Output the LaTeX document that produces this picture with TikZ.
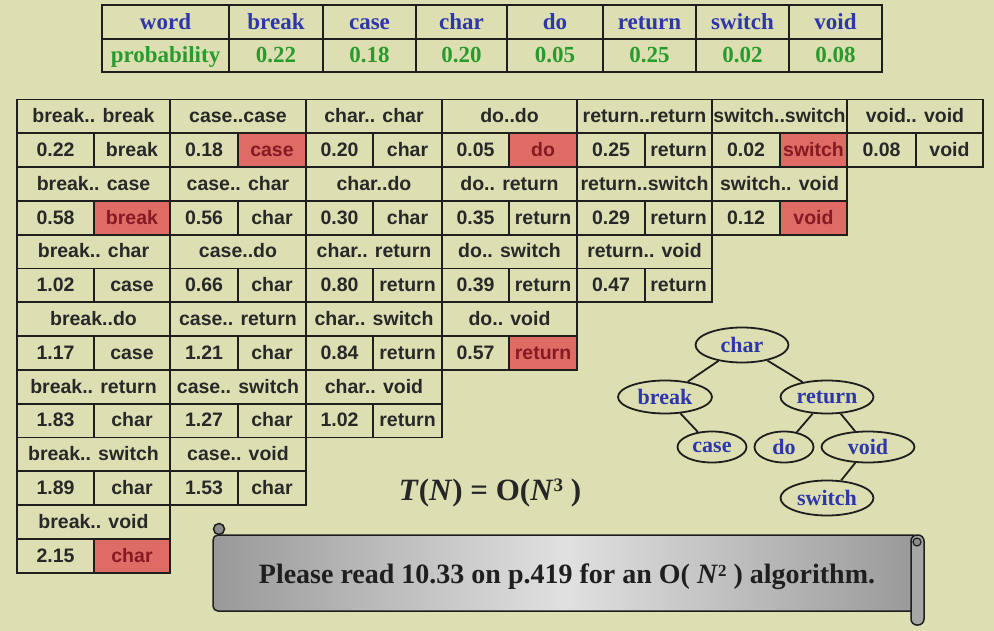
\documentclass[tikz,border=0pt]{standalone}
\usepackage{fontspec}
\setmainfont{Liberation Serif}
\setsansfont{Liberation Sans}
\usetikzlibrary{shapes.geometric}
\definecolor{bgc}{RGB}{221,223,178}
\definecolor{redc}{RGB}{222,108,100}
\definecolor{redtext}{RGB}{135,25,35}
\definecolor{bluec}{RGB}{45,55,170}
\definecolor{greenc}{RGB}{40,155,45}
\definecolor{gridtext}{RGB}{40,40,40}
\definecolor{linec}{RGB}{30,30,30}
\newcommand\boxcell[7]{%
  \pgfmathsetmacro\bcw{#4-#3}\pgfmathsetmacro\bch{#6-#5}%
  \pgfmathsetmacro\bcx{(#3+#4)/2}\pgfmathsetmacro\bcy{(#5+#6)/2}%
  \node[#2, minimum width=\bcw pt, minimum height=\bch pt] (#1) at (\bcx,\bcy) {#7};}
\newcommand\gcell[6]{%
  \pgfmathsetmacro\gya{99.5+33.8*#5}\pgfmathsetmacro\gyb{\gya+33.8}%
  \boxcell{#1}{#2}{#3}{#4}{\gya}{\gyb}{#6}}
\begin{document}
\begin{tikzpicture}[x=1pt,y=-1pt,
  cellbase/.style={draw=linec, line width=1.8pt, inner sep=0pt, anchor=center},
  gc/.style={cellbase, fill=bgc, text=gridtext, text height=13.5pt, text depth=1pt, font=\sffamily\bfseries\fontsize{19.5}{20}\selectfont},
  rc/.style={gc, fill=redc, text=redtext},
  tw/.style={cellbase, fill=bgc, text=bluec, text height=15.5pt, text depth=0.5pt, font=\bfseries\fontsize{23}{24}\selectfont},
  tp/.style={tw, text=greenc},
  tn/.style={ellipse, draw=linec, line width=1.8pt, inner sep=0pt, text=bluec, font=\bfseries\fontsize{22}{23}\selectfont},
  te/.style={draw=linec, line width=1.8pt}]
\useasboundingbox (0,0) rectangle (994,631);
\fill[bgc] (0,0) rectangle (994,631);
% top table
\boxcell{tw0}{tw}{102}{229}{5}{39}{word}
\boxcell{tw1}{tw}{229}{323}{5}{39}{break}
\boxcell{tw2}{tw}{323}{416}{5}{39}{case}
\boxcell{tw3}{tw}{416}{507}{5}{39}{char}
\boxcell{tw4}{tw}{507}{603}{5}{39}{do}
\boxcell{tw5}{tw}{603}{696}{5}{39}{return}
\boxcell{tw6}{tw}{696}{789}{5}{39}{switch}
\boxcell{tw7}{tw}{789}{882}{5}{39}{void}
\boxcell{tp0}{tp}{102}{229}{39}{72}{probability}
\boxcell{tp1}{tp}{229}{323}{39}{72}{0.22}
\boxcell{tp2}{tp}{323}{416}{39}{72}{0.18}
\boxcell{tp3}{tp}{416}{507}{39}{72}{0.20}
\boxcell{tp4}{tp}{507}{603}{39}{72}{0.05}
\boxcell{tp5}{tp}{603}{696}{39}{72}{0.25}
\boxcell{tp6}{tp}{696}{789}{39}{72}{0.02}
\boxcell{tp7}{tp}{789}{882}{39}{72}{0.08}
% block 1: break
\gcell{h11}{gc}{17}{170}{0}{break.. break}
\gcell{n11}{gc}{17}{94}{1}{0.22}
\gcell{w11}{gc}{94}{170}{1}{break}
\gcell{h12}{gc}{17}{170}{2}{break.. case}
\gcell{n12}{gc}{17}{94}{3}{0.58}
\gcell{w12}{rc}{94}{170}{3}{break}
\gcell{h13}{gc}{17}{170}{4}{break.. char}
\gcell{n13}{gc}{17}{94}{5}{1.02}
\gcell{w13}{gc}{94}{170}{5}{case}
\gcell{h14}{gc}{17}{170}{6}{break..do}
\gcell{n14}{gc}{17}{94}{7}{1.17}
\gcell{w14}{gc}{94}{170}{7}{case}
\gcell{h15}{gc}{17}{170}{8}{break.. return}
\gcell{n15}{gc}{17}{94}{9}{1.83}
\gcell{w15}{gc}{94}{170}{9}{char}
\gcell{h16}{gc}{17}{170}{10}{break.. switch}
\gcell{n16}{gc}{17}{94}{11}{1.89}
\gcell{w16}{gc}{94}{170}{11}{char}
\gcell{h17}{gc}{17}{170}{12}{break.. void}
\gcell{n17}{gc}{17}{94}{13}{2.15}
\gcell{w17}{rc}{94}{170}{13}{char}
% block 2: case
\gcell{h21}{gc}{170}{306}{0}{case..case}
\gcell{n21}{gc}{170}{238}{1}{0.18}
\gcell{w21}{rc}{238}{306}{1}{case}
\gcell{h22}{gc}{170}{306}{2}{case.. char}
\gcell{n22}{gc}{170}{238}{3}{0.56}
\gcell{w22}{gc}{238}{306}{3}{char}
\gcell{h23}{gc}{170}{306}{4}{case..do}
\gcell{n23}{gc}{170}{238}{5}{0.66}
\gcell{w23}{gc}{238}{306}{5}{char}
\gcell{h24}{gc}{170}{306}{6}{case.. return}
\gcell{n24}{gc}{170}{238}{7}{1.21}
\gcell{w24}{gc}{238}{306}{7}{char}
\gcell{h25}{gc}{170}{306}{8}{case.. switch}
\gcell{n25}{gc}{170}{238}{9}{1.27}
\gcell{w25}{gc}{238}{306}{9}{char}
\gcell{h26}{gc}{170}{306}{10}{case.. void}
\gcell{n26}{gc}{170}{238}{11}{1.53}
\gcell{w26}{gc}{238}{306}{11}{char}
% block 3: char
\gcell{h31}{gc}{306}{442}{0}{char.. char}
\gcell{n31}{gc}{306}{373}{1}{0.20}
\gcell{w31}{gc}{373}{442}{1}{char}
\gcell{h32}{gc}{306}{442}{2}{char..do}
\gcell{n32}{gc}{306}{373}{3}{0.30}
\gcell{w32}{gc}{373}{442}{3}{char}
\gcell{h33}{gc}{306}{442}{4}{char.. return}
\gcell{n33}{gc}{306}{373}{5}{0.80}
\gcell{w33}{gc}{373}{442}{5}{return}
\gcell{h34}{gc}{306}{442}{6}{char.. switch}
\gcell{n34}{gc}{306}{373}{7}{0.84}
\gcell{w34}{gc}{373}{442}{7}{return}
\gcell{h35}{gc}{306}{442}{8}{char.. void}
\gcell{n35}{gc}{306}{373}{9}{1.02}
\gcell{w35}{gc}{373}{442}{9}{return}
% block 4: do
\gcell{h41}{gc}{442}{577}{0}{do..do}
\gcell{n41}{gc}{442}{509}{1}{0.05}
\gcell{w41}{rc}{509}{577}{1}{do}
\gcell{h42}{gc}{442}{577}{2}{do.. return}
\gcell{n42}{gc}{442}{509}{3}{0.35}
\gcell{w42}{gc}{509}{577}{3}{return}
\gcell{h43}{gc}{442}{577}{4}{do.. switch}
\gcell{n43}{gc}{442}{509}{5}{0.39}
\gcell{w43}{gc}{509}{577}{5}{return}
\gcell{h44}{gc}{442}{577}{6}{do.. void}
\gcell{n44}{gc}{442}{509}{7}{0.57}
\gcell{w44}{rc}{509}{577}{7}{return}
% block 5: return
\gcell{h51}{gc}{577}{712}{0}{return..return}
\gcell{n51}{gc}{577}{645}{1}{0.25}
\gcell{w51}{gc}{645}{712}{1}{return}
\gcell{h52}{gc}{577}{712}{2}{return..switch}
\gcell{n52}{gc}{577}{645}{3}{0.29}
\gcell{w52}{gc}{645}{712}{3}{return}
\gcell{h53}{gc}{577}{712}{4}{return.. void}
\gcell{n53}{gc}{577}{645}{5}{0.47}
\gcell{w53}{gc}{645}{712}{5}{return}
% block 6: switch
\gcell{h61}{gc}{712}{847}{0}{switch..switch}
\gcell{n61}{gc}{712}{780}{1}{0.02}
\gcell{w61}{rc}{780}{847}{1}{switch}
\gcell{h62}{gc}{712}{847}{2}{switch.. void}
\gcell{n62}{gc}{712}{780}{3}{0.12}
\gcell{w62}{rc}{780}{847}{3}{void}
% block 7: void
\gcell{h71}{gc}{847}{983}{0}{void.. void}
\gcell{n71}{gc}{847}{916}{1}{0.08}
\gcell{w71}{gc}{916}{983}{1}{void}
% tree
\node[tn, minimum width=93pt, minimum height=35pt] (tchar) at (742,345) {char};
\node[tn, minimum width=94pt, minimum height=33pt] (tbreak) at (665,397) {break};
\node[tn, minimum width=93pt, minimum height=33pt] (treturn) at (827,397) {return};
\node[tn, minimum width=69pt, minimum height=31pt] (tcase) at (712,447) {case};
\node[tn, minimum width=59pt, minimum height=31pt] (tdo) at (784,447) {do};
\node[tn, minimum width=93pt, minimum height=31pt] (tvoid) at (868,447) {void};
\node[tn, minimum width=93pt, minimum height=35pt] (tswitch) at (827,498) {switch};
\draw[te] (tchar) -- (tbreak);
\draw[te] (tchar) -- (treturn);
\draw[te] (tbreak) -- (tcase);
\draw[te] (treturn) -- (tdo);
\draw[te] (treturn) -- (tvoid);
\draw[te] (tvoid) -- (tswitch);
% complexity
\node[font=\bfseries\fontsize{31}{33}\selectfont, text=black!85] (tn) at (490,493)
  {\textit{T}(\textit{N}) = O(\textit{N}\raisebox{0.6ex}{\fontsize{19}{20}\selectfont 3} )};
% scroll banner
\draw[linec, line width=1.5pt, rounded corners=5pt, left color=black!40, right color=black!40, middle color=black!12]
  (213,535) rectangle (918,611);
\draw[linec, line width=1.5pt, fill=black!45] (219,529) circle (5.5);
\draw[linec, line width=1.5pt, fill=black!35, rounded corners=6pt] (911,535) rectangle (924,625);
\draw[linec, line width=1.2pt, fill=black!45] (917,542) circle (4);
\node[font=\bfseries\fontsize{28}{30}\selectfont, text=black!88] (note) at (567,577)
  {Please read 10.33 on p.419 for an O( \textit{N}\raisebox{0.6ex}{\fontsize{17}{18}\selectfont 2} ) algorithm.};
\end{tikzpicture}
\end{document}
